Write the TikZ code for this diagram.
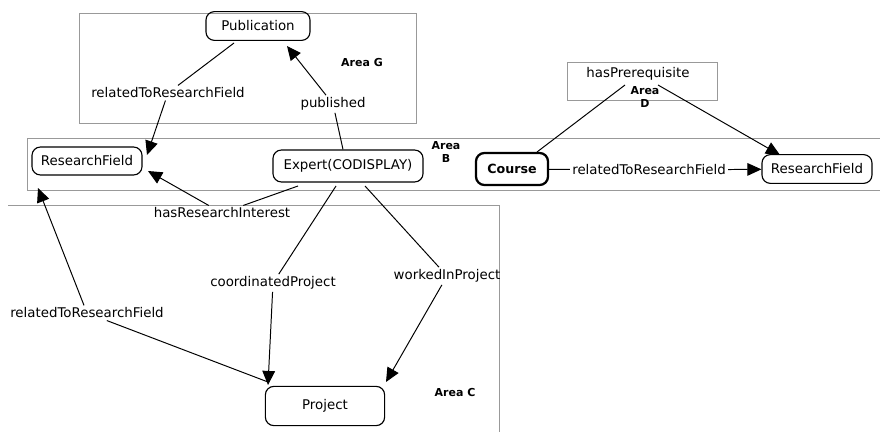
\documentclass[tikz,border=0pt]{standalone}
\usepackage{fontspec}
\setmainfont{DejaVu Sans}
\usetikzlibrary{arrows.meta,positioning}

\tikzset{
  cls/.style={draw, rounded corners=6pt, thick, font=\fontsize{9.5}{11}\selectfont, inner sep=0pt},
  lbl/.style={font=\fontsize{9.5}{11}\selectfont, inner sep=1.5pt},
  area/.style={draw=black!40, line width=0.6pt},
  arealbl/.style={font=\fontsize{7.8}{9}\selectfont\bfseries, align=center},
  rel/.style={line width=0.7pt, -{Triangle[length=10pt,width=9pt]}},
}

\begin{document}
\begin{tikzpicture}[x=0.025cm, y=-0.025cm]
  \useasboundingbox (0,0) rectangle (880,432);
  \draw[area] (79,13) rectangle (416,123);
  \draw[area] (890,138) -- (27,138) -- (27,190) -- (890,190);
  \draw[area] (8,205) -- (499,205) -- (499,440);
  \draw[area] (567,62) rectangle (717,100);

  \node[cls, minimum width=2.6cm, minimum height=0.72cm] (pub) at (258,26) {Publication};
  \node[cls, minimum width=2.75cm, minimum height=0.7cm] (rfa) at (87,161) {ResearchField};
  \node[cls, minimum width=3.75cm, minimum height=0.8cm] (exp) at (348,166) {Expert(CODISPLAY)};
  \node[cls, minimum width=2.98cm, minimum height=0.98cm] (prj) at (325,406) {Project};
  \node[cls, line width=1.6pt, minimum width=1.8cm, minimum height=0.8cm, font=\fontsize{9}{10}\selectfont\bfseries] (crs) at (512,169) {Course};
  \node[cls, minimum width=2.75cm, minimum height=0.72cm] (rfb) at (817,169) {ResearchField};

  \node[arealbl] at (362,63) {Area G};
  \node[arealbl] at (446,152) {Area\\B};
  \node[arealbl] at (645,97) {Area\\D};
  \node[arealbl] at (455,393) {Area C};

  \node[lbl] (l1) at (168,93) {relatedToResearchField};
  \node[lbl] (l2) at (333,104) {published};
  \node[lbl] (l3) at (222,213) {hasResearchInterest};
  \node[lbl] (l4) at (273,283) {coordinatedProject};
  \node[lbl] (l5) at (447,276) {workedInProject};
  \node[lbl] (l6) at (87,313) {relatedToResearchField};
  \node[lbl] (l7) at (649,170) {relatedToResearchField};
  \node[lbl] (l8) at (638,74) {hasPrerequisite};

  \draw[line width=0.7pt] (234,43) -- (l1);
  \draw[rel] (l1) -- (147,155);
  \draw[line width=0.7pt] (exp.north) ++(-5,0) -- (l2);
  \draw[rel] (l2) -- (287,46);
  \draw[line width=0.7pt] (298,186) -- (l3);
  \draw[rel] (l3) -- (148,171);
  \draw[line width=0.7pt] (336,186) -- (l4);
  \draw[rel] (l4) -- (268,385);
  \draw[line width=0.7pt] (365,186) -- (l5);
  \draw[rel] (l5) -- (386,382);
  \draw[line width=0.7pt] (268,382) -- (l6);
  \draw[rel] (l6) -- (38,188);
  \draw[line width=0.7pt] (crs) -- (l7);
  \draw[rel] (l7) -- (rfb);
  \draw[line width=0.7pt] (537,152) -- (625,85);
  \draw[rel] (658,85) -- (780,155);
\end{tikzpicture}
\end{document}
